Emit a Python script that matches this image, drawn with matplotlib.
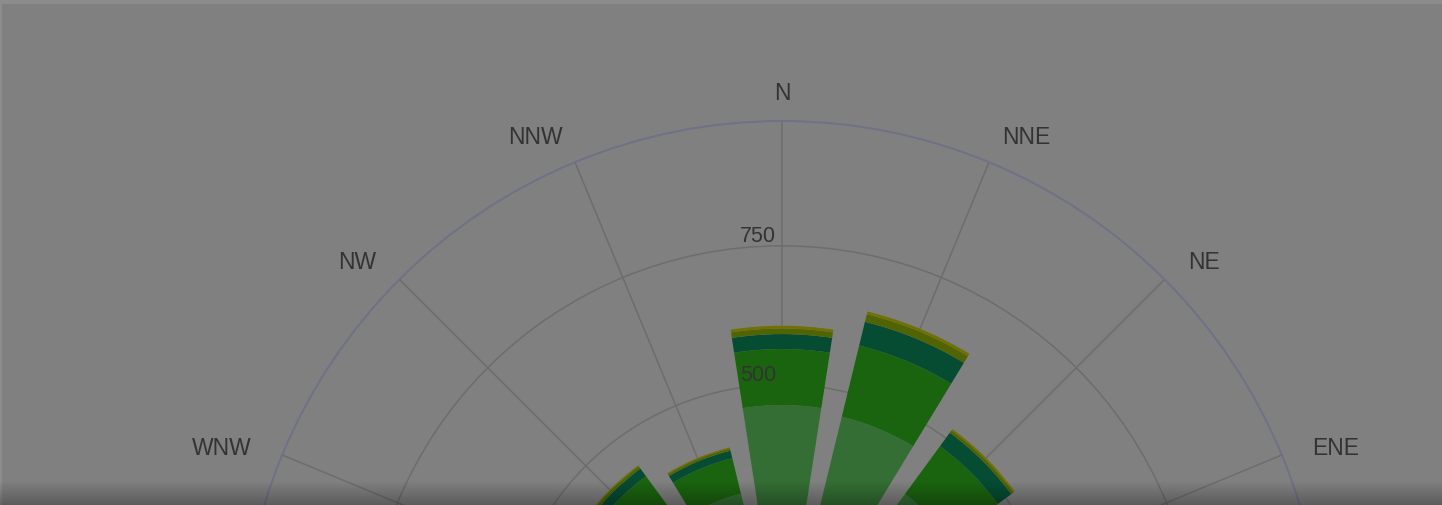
"""Wind rose (stacked polar columns) behind a dimming overlay, cropped to the top half."""

import matplotlib

matplotlib.use("Agg")
import matplotlib.pyplot as plt
import numpy as np
from matplotlib.patches import Rectangle

plt.rcParams["font.family"] = ["Liberation Sans", "DejaVu Sans"]

# --- data -------------------------------------------------------------------
directions = ["N", "NNE", "NE", "ENE", "E", "ESE", "SE", "SSE",
              "S", "SSW", "SW", "WSW", "W", "WNW", "NW", "NNW"]

# stacked segments, innermost first (one value per direction)
band_1 = [463, 455, 375, 260, 180, 150, 170, 200, 220, 190, 160, 150, 170, 220, 300, 312]
band_2 = [101, 132, 107, 70, 50, 40, 45, 55, 60, 50, 45, 40, 45, 60, 115, 66]
band_3 = [27, 44, 30, 20, 15, 12, 14, 16, 18, 15, 13, 12, 13, 18, 17, 14]
band_4 = [10, 14, 5, 5, 4, 3, 3, 4, 4, 3, 3, 3, 3, 4, 5, 4]
band_5 = [5, 5, 3, 3, 2, 2, 2, 2, 2, 2, 2, 2, 2, 2, 2, 2]

bands = [band_1, band_2, band_3, band_4, band_5]
band_colors = ["#346e34", "#1b640f", "#064c32", "#506404", "#707003"]

r_ticks = [250, 500, 750]
r_max = 975

# --- figure -----------------------------------------------------------------
W, H = 1442, 506
fig = plt.figure(figsize=(W / 100, H / 100), dpi=100, facecolor="#808080")

cx, cy, R = 782, 663, 541  # centre and radius in image pixels (y from top)
ax = fig.add_axes(
    [(cx - R) / W, (H - cy - R) / H, 2 * R / W, 2 * R / H],
    projection="polar",
)
ax.set_facecolor("none")
ax.set_theta_zero_location("N")
ax.set_theta_direction(-1)
ax.set_ylim(0, r_max)

theta = np.deg2rad(np.arange(len(directions)) * 22.5)
ax.set_xticks(theta)
ax.set_xticklabels([])
ax.set_yticks(r_ticks)
ax.set_yticklabels([])
ax.grid(True, color="#6d6d6d", lw=1.1)
ax.spines["polar"].set_color("#6e7188")
ax.spines["polar"].set_linewidth(1.4)
ax.set_axisbelow(True)

bottom = np.zeros(len(directions))
for vals, col in zip(bands, band_colors):
    ax.bar(theta, vals, width=np.deg2rad(17.6), bottom=bottom,
           color=col, edgecolor="none", linewidth=0, zorder=2)
    bottom = bottom + np.array(vals)

# direction labels just outside the outer circle (only those inside the crop)
r_lab = 574
for ang, name in zip(theta, directions):
    y_px = cy - r_lab * np.cos(ang)
    if y_px > H - 20:
        continue
    s = np.sin(ang)
    ha = "left" if s > 0.1 else ("right" if s < -0.1 else "center")
    ax.annotate(name, xy=(ang, r_lab / R * r_max), xytext=(0, -5),
                textcoords="offset pixels", ha=ha, va="center",
                fontsize=16.5, color="#333333", annotation_clip=False, zorder=5)

# radial labels along the N spoke, above the columns
for rv in r_ticks:
    ax.annotate(str(rv), xy=(0, rv), xytext=(-6, 10), textcoords="offset pixels",
                ha="right", va="center", fontsize=15.5, color="#333333",
                annotation_clip=False, zorder=6)

# light strip at top and left edge
fig.add_artist(Rectangle((0, 1 - 5 / H), 1, 5 / H, transform=fig.transFigure,
                         color="#8c8c8c", lw=0, zorder=10))
fig.add_artist(Rectangle((0, 0), 2 / W, 1, transform=fig.transFigure,
                         color="#8c8c8c", lw=0, zorder=10))

# soft shadow along the bottom edge
sh = 24
shadow = fig.add_axes([0, 0, 1, sh / H], zorder=20)
grad = np.zeros((64, 2, 4))
grad[..., 3] = np.linspace(0.0, 0.28, 64)[:, None]
shadow.imshow(grad, aspect="auto", extent=[0, 1, 0, 1], origin="upper",
              interpolation="bilinear")
shadow.set_axis_off()

fig.savefig("out.png", dpi=100, facecolor=fig.get_facecolor())
